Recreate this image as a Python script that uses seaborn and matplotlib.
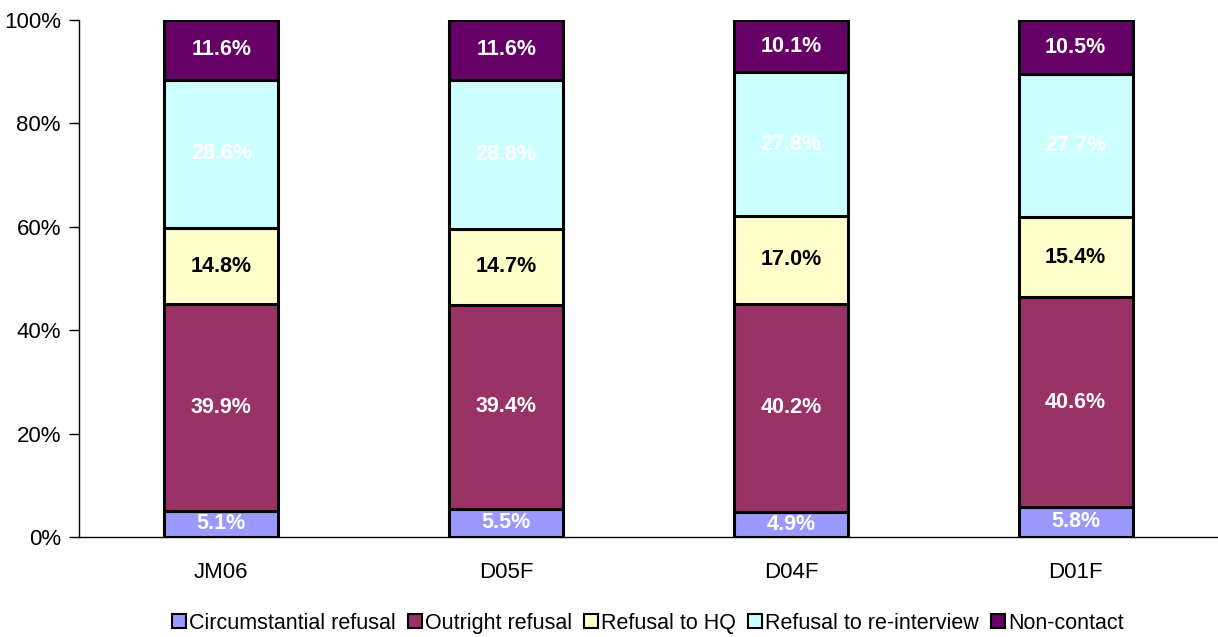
import numpy as np
import pandas as pd
import matplotlib
matplotlib.use('Agg')
import matplotlib.pyplot as plt
from matplotlib.patches import Patch
import seaborn as sns

# data (percent of each bar)
waves = ['JM06', 'D05F', 'D04F', 'D01F']
circumstantial = [5.1, 5.5, 4.9, 5.8]
outright = [39.9, 39.4, 40.2, 40.6]
refusal_hq = [14.8, 14.7, 17.0, 15.4]
reinterview = [28.6, 28.8, 27.8, 27.7]
non_contact = [11.6, 11.6, 10.1, 10.5]

series_names = ['Circumstantial refusal', 'Outright refusal', 'Refusal to HQ',
                'Refusal to re-interview', 'Non-contact']
series_vals = [circumstantial, outright, refusal_hq, reinterview, non_contact]
colors = ['#9999FF', '#993366', '#FFFFCC', '#CCFFFF', '#660066']
label_colors = ['white', 'white', 'black', 'white', 'white']

sns.set_style('white')
plt.rcParams['font.family'] = ['Liberation Sans', 'DejaVu Sans']
plt.rcParams['text.color'] = 'black'
plt.rcParams['xtick.color'] = 'black'
plt.rcParams['ytick.color'] = 'black'

fig = plt.figure(figsize=(12.18, 6.37), dpi=100)
ax = fig.add_axes([0.0649, 0.157, 0.9351, 0.8116])

bottom = np.zeros(len(waves))
for name, vals, col, lcol in zip(series_names, series_vals, colors, label_colors):
    df = pd.DataFrame({'wave': waves, 'val': vals})
    sns.barplot(data=df, x='wave', y='val', color=col, saturation=1, width=0.4,
                bottom=bottom, edgecolor='black', linewidth=2.2, ax=ax)
    for i, v in enumerate(vals):
        ax.text(i, bottom[i] + v / 2, f'{v:.1f}%', ha='center', va='center',
                color=lcol, fontsize=15.5, fontweight='bold')
    bottom = bottom + np.array(vals)

ax.set_xlim(-0.5, len(waves) - 0.5)
ax.set_ylim(0, 100)
ax.set_yticks(range(0, 101, 20))
ax.set_yticklabels([f'{t}%' for t in range(0, 101, 20)], fontsize=16)
ax.set_xticks(range(len(waves)))
ax.set_xticklabels(waves, fontsize=16)
ax.set_xticks([0.5, 1.5, 2.5], minor=True)
ax.tick_params(axis='x', which='major', length=0, pad=18)
ax.tick_params(axis='x', which='minor', length=7, width=1, direction='out', color='black')
ax.tick_params(axis='y', length=7, width=1, direction='out', color='black', left=True, pad=6)
ax.set_xlabel('')
ax.set_ylabel('')
for s in ['top', 'right']:
    ax.spines[s].set_visible(False)
for s in ['left', 'bottom']:
    ax.spines[s].set_color('black')
    ax.spines[s].set_linewidth(1)

handles = [Patch(facecolor=c, edgecolor='black', linewidth=1.5) for c in colors]
fig.legend(handles, series_names, loc='lower center', bbox_to_anchor=(0.532, -0.025),
           ncol=5, frameon=False, fontsize=15.5, handlelength=0.65, handleheight=0.65,
           handletextpad=0.15, columnspacing=0.55)

fig.savefig('out.png', dpi=100)
